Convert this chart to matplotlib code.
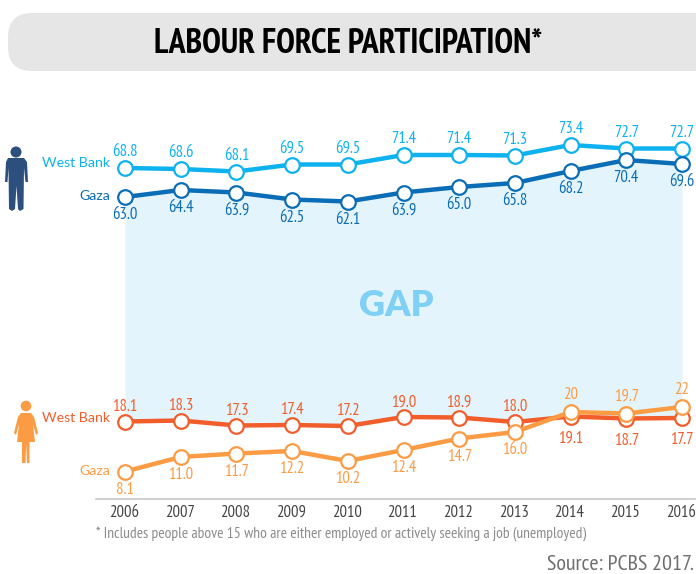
import matplotlib
matplotlib.use('Agg')
import matplotlib.pyplot as plt
from matplotlib.patches import Circle, FancyBboxPatch, Polygon

years = [2006, 2007, 2008, 2009, 2010, 2011, 2012, 2013, 2014, 2015, 2016]
men_wb = [68.8, 68.6, 68.1, 69.5, 69.5, 71.4, 71.4, 71.3, 73.4, 72.7, 72.7]
men_gaza = [63.0, 64.4, 63.9, 62.5, 62.1, 63.9, 65.0, 65.8, 68.2, 70.4, 69.6]
women_wb = [18.1, 18.3, 17.3, 17.4, 17.2, 19.0, 18.9, 18.0, 19.1, 18.7, 18.8]
women_gaza = [8.1, 11.0, 11.7, 12.2, 10.2, 12.4, 14.7, 16.0, 20, 19.7, 21]
# printed labels, the last points in the picture sit away from what is printed
women_wb_labels = ['18.1', '18.3', '17.3', '17.4', '17.2', '19.0', '18.9', '18.0', '19.1', '18.7', '17.7']
women_gaza_labels = ['8.1', '11.0', '11.7', '12.2', '10.2', '12.4', '14.7', '16.0', '20', '19.7', '22']

narrow = ['PT Sans Narrow', 'Fira Sans Condensed', 'Roboto', 'DejaVu Sans']
wide = ['Lato', 'DejaVu Sans']

c_men_wb = '#0DB2EE'
c_men_gaza = '#0A6DB5'
c_women_wb = '#F15D2B'
c_women_gaza = '#FB9C45'
c_gap = '#E3F4FC'
c_man = '#2C4F7E'

W, H = 696, 574
fig = plt.figure(figsize=(W / 100, H / 100), dpi=100)

# data axes cover the whole figure, 55.7 px per year and 5 px per point
ax = fig.add_axes([0, 0, 1, 1], zorder=2)
ax.set_xlim(2006 - 125 / 55.7, 2006 + (W - 125) / 55.7)
ax.set_ylim((512 - H) / 5, 512 / 5)
ax.axis('off')
ax.patch.set_alpha(0)

# pixel axes for the title bar, icons and notes
bg = fig.add_axes([0, 0, 1, 1], zorder=1)
bg.set_xlim(0, W)
bg.set_ylim(H, 0)
bg.axis('off')

ax.fill_between(years, men_gaza, women_wb, color=c_gap, lw=0, zorder=1)


def draw_series(values, color, labels, offsets, z):
    ax.plot(years, values, color=color, lw=3.2, zorder=z, solid_capstyle='round',
            marker='o', ms=10.5, mfc='white', mec=color, mew=1.6)
    for x, v, s, off in zip(years, values, labels, offsets):
        ax.annotate(s, (x, v), xytext=(0, off), textcoords='offset points',
                    ha='center', va='center', color=color, fontsize=12,
                    family=narrow, zorder=6, annotation_clip=False)


draw_series(men_wb, c_men_wb, [f'{v:.1f}' for v in men_wb], [11.5] * 11, 3)
draw_series(men_gaza, c_men_gaza, [f'{v:.1f}' for v in men_gaza], [-13] * 11, 3)
draw_series(women_wb, c_women_wb, women_wb_labels, [10.5] * 8 + [-16] * 3, 3)
draw_series(women_gaza, c_women_gaza, women_gaza_labels, [-13] * 8 + [12] * 3, 4)

ax.text(2006 + (396 - 125) / 55.7, (512 - 305) / 5, 'GAP', color='#7FD0F5', fontsize=26,
        fontweight='heavy', family=wide, ha='center', va='center', zorder=2)

# title bar, runs off the right edge
bg.add_patch(FancyBboxPatch((8, 13), 760, 58, boxstyle='round,pad=0,rounding_size=24',
                            fc='#E6E6E6', ec='none'))
bg.text(348, 44, 'LABOUR FORCE PARTICIPATION*', fontsize=24.3, fontweight='bold',
        family=narrow, color='black', ha='center', va='center')

# series names
bg.text(110, 163, 'West Bank', color=c_men_wb, fontsize=10.2, family=wide, ha='right', va='center')
bg.text(110, 196, 'Gaza', color=c_men_gaza, fontsize=10.2, family=wide, ha='right', va='center')
bg.text(110, 418, 'West Bank', color=c_women_wb, fontsize=10.2, family=wide, ha='right', va='center')
bg.text(110, 471, 'Gaza', color=c_women_gaza, fontsize=10.2, family=wide, ha='right', va='center')

# man icon
bg.add_patch(Circle((16, 152), 5.5, fc=c_man, ec='none'))
bg.add_patch(Polygon([(8, 158), (24, 158), (27, 162), (28, 182), (25.5, 182), (24, 168),
                      (23.5, 209), (20, 211), (18, 209), (16.5, 186), (15, 209), (12, 211),
                      (9, 209), (8.5, 168), (7.5, 182), (5, 182), (6, 162)],
                     closed=True, fc=c_man, ec='none'))

# woman icon
bg.add_patch(Circle((26, 406), 5.3, fc=c_women_gaza, ec='none'))
bg.add_patch(Polygon([(21, 413), (31, 413), (34, 417), (38, 433), (36, 435), (33, 424),
                      (35, 442), (29.5, 442), (29.5, 463), (27, 463), (26.2, 444), (25.5, 463),
                      (22, 463), (22, 442), (17, 442), (19, 424), (16, 435), (14, 433), (18, 417)],
                     closed=True, fc=c_women_gaza, ec='none'))

# axis line and years
bg.plot([96, W], [499, 499], color='#C8C8C8', lw=1.2)
for y in years:
    ax.text(y - 0.02, (512 - 513) / 5, str(y), color='#444444', fontsize=12, family=narrow,
            ha='center', va='center')

bg.text(96, 534, '* Includes people above 15 who are either employed or actively seeking a job (unemployed)',
        color='#8C8C8C', fontsize=11.2, family=narrow, ha='left', va='center')
bg.text(694, 565, 'Source: PCBS 2017.', color='#6E6E6E', fontsize=15.8, family=narrow,
        ha='right', va='center')

fig.savefig('out.png', dpi=100)
